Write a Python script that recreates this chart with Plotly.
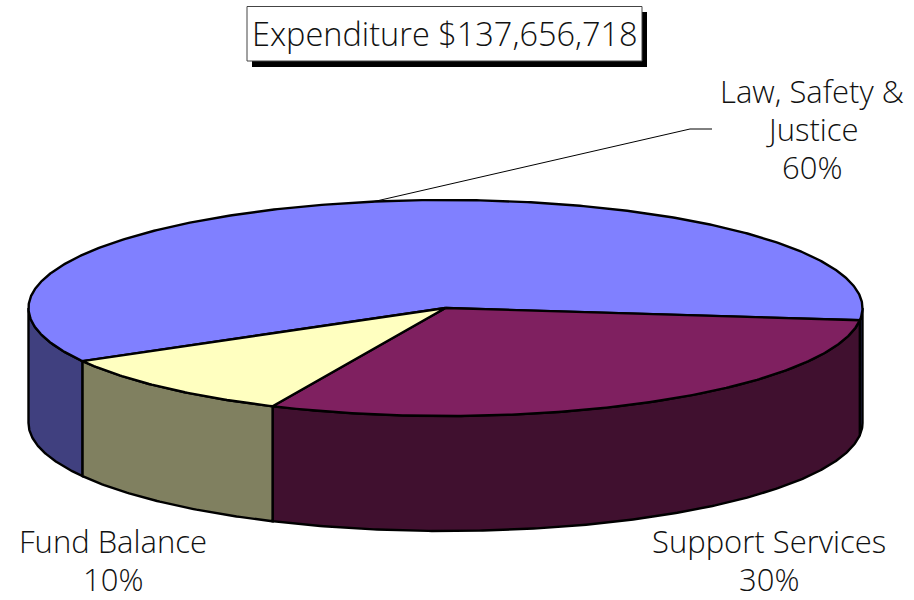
import numpy as np
import plotly.graph_objects as go

# Budget shares, drawn clockwise starting from the lower-left edge of the first slice
categories = [["Law, Safety &", "Justice"], ["Support Services"], ["Fund Balance"]]
shares = [60, 30, 10]
top_colors = ["#8080FF", "#7F2060", "#FFFFC0"]
wall_colors = ["#40407F", "#40102F", "#808060"]
title_text = "Expenditure $137,656,718"

# Projected disc: centre, radii, extrusion depth and rotation of the first slice
CX, CY = 445.5, 308
RX, RY = 417, 108
DEPTH = 115
START_DEG = 150.5
FONT = "Open Sans"
EDGE = dict(color="black", width=2.4)
LINE_PITCH = 38


def rim(deg):
    t = np.radians(deg)
    return CX + RX * np.cos(t), CY + RY * np.sin(t)


def arc(a, b):
    n = max(int(abs(b - a) * 2), 2)
    return np.linspace(a, b, n)


fig = go.Figure()
bounds = START_DEG + np.concatenate([[0], np.cumsum(shares)]) * 3.6
slices = list(zip(bounds[:-1], bounds[1:], top_colors, wall_colors))

# Outer walls: only the part of each slice facing the viewer (sine > 0)
for a0, a1, _, wall in slices:
    for k in (0, 360):
        lo, hi = max(a0, k), min(a1, k + 180)
        if hi <= lo:
            continue
        x, y = rim(arc(lo, hi))
        fig.add_trace(go.Scatter(
            x=np.concatenate([x, x[::-1], x[:1]]),
            y=np.concatenate([y, y[::-1] + DEPTH, y[:1]]),
            mode="lines", fill="toself", fillcolor=wall, line=EDGE,
            hoverinfo="skip", showlegend=False))

# Top faces
for a0, a1, top, _ in slices:
    x, y = rim(arc(a0, a1))
    fig.add_trace(go.Scatter(
        x=np.concatenate([[CX], x, [CX]]),
        y=np.concatenate([[CY], y, [CY]]),
        mode="lines", fill="toself", fillcolor=top, line=EDGE,
        hoverinfo="skip", showlegend=False))

# Leader line from the largest slice to its label
fig.add_trace(go.Scatter(
    x=[372, 690, 712], y=[202, 129, 129], mode="lines",
    line=dict(color="black", width=1), hoverinfo="skip", showlegend=False))

# Title box with its drop shadow
fig.add_shape(type="rect", x0=252, y0=12, x1=647, y1=67,
              fillcolor="black", line=dict(width=0), layer="above")
fig.add_shape(type="rect", x0=247, y0=6.5, x1=642, y1=61,
              fillcolor="white", line=dict(color="#444444", width=1), layer="above")
fig.add_annotation(x=445, y=33, text=title_text, showarrow=False,
                   font=dict(family=FONT, size=32.5, weight=300, color="#111111"))

# Category labels, one annotation per line so the line pitch can be set directly
label_pos = [(812, 91), (769, 541), (113, 541)]
for name_lines, share, (lx, ly) in zip(categories, shares, label_pos):
    for i, line in enumerate(name_lines + [f"{share}%"]):
        fig.add_annotation(x=lx, y=ly + i * LINE_PITCH, text=line, showarrow=False,
                           font=dict(family=FONT, size=31, weight=300, color="#111111"))

fig.update_layout(
    width=914, height=600, margin=dict(l=0, r=0, t=0, b=0),
    paper_bgcolor="white", plot_bgcolor="white", showlegend=False,
    xaxis=dict(range=[0, 914], visible=False, fixedrange=True),
    yaxis=dict(range=[600, 0], visible=False, fixedrange=True),
)
fig.write_html("out.html", config={"displayModeBar": False})
